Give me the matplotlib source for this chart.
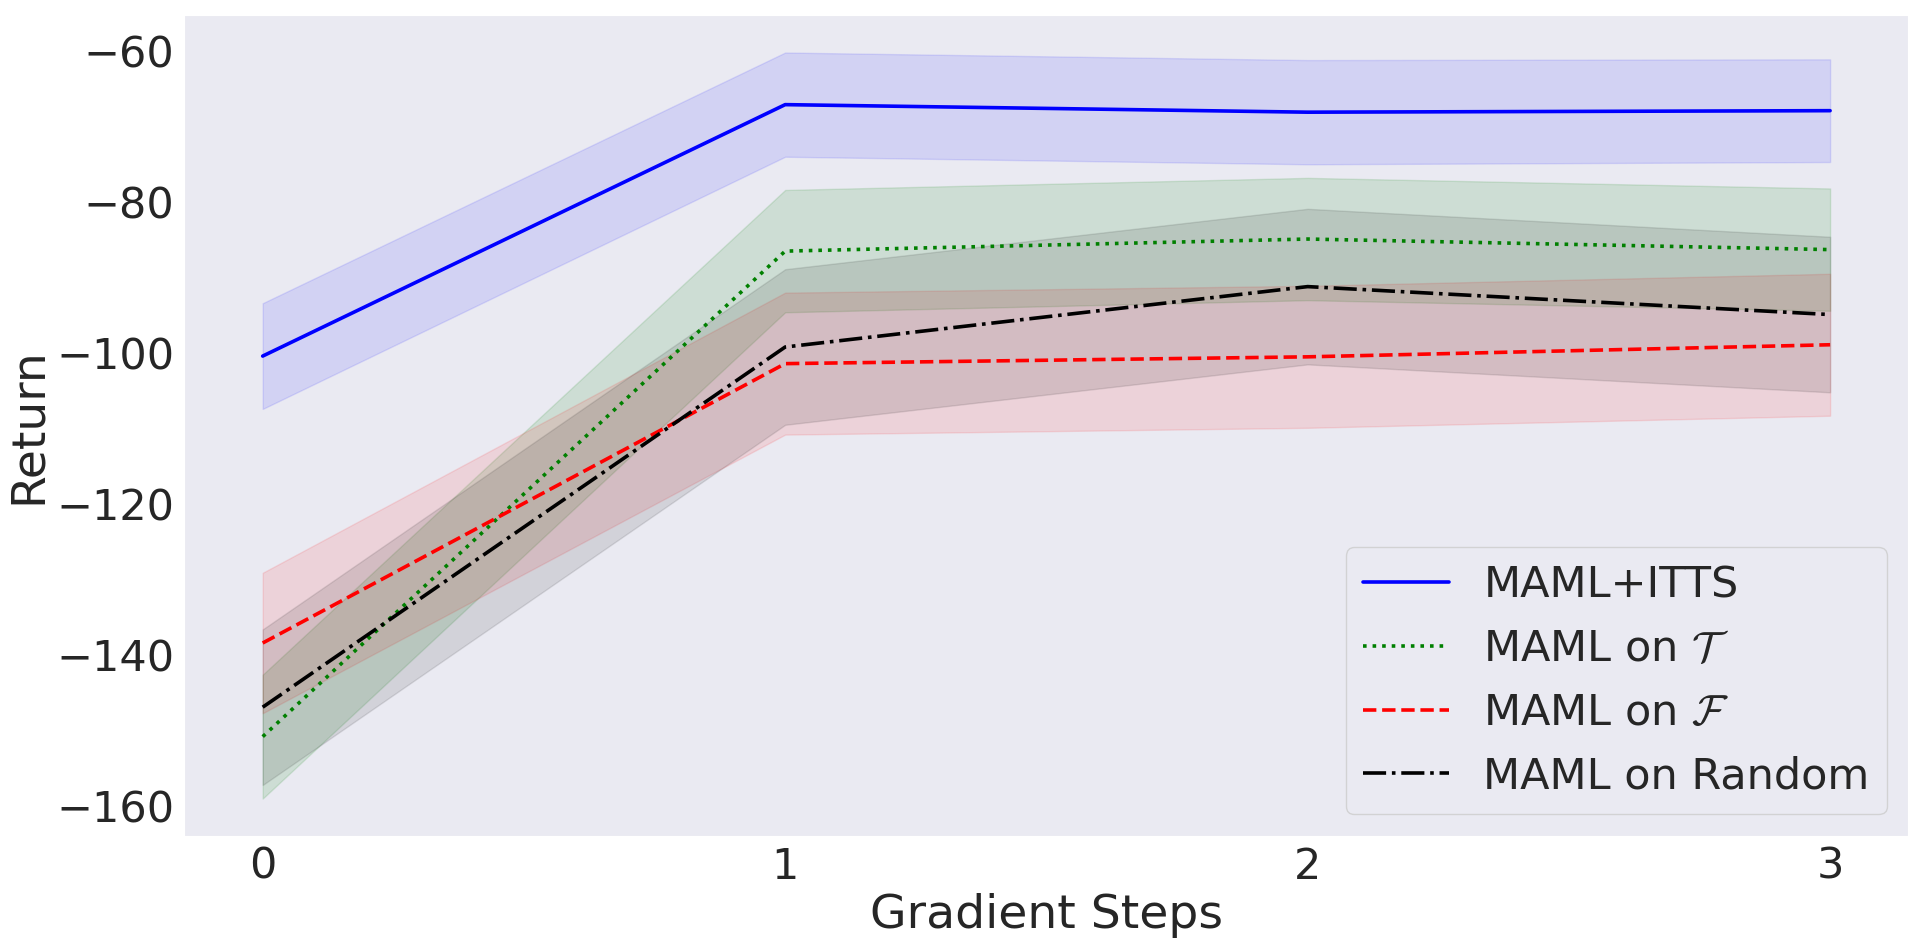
import matplotlib
matplotlib.use("Agg")
import matplotlib.pyplot as plt
import seaborn as sns
import numpy as np

sns.set_style("dark")
plt.rcParams['font.family'] = ['DejaVu Sans']
plt.rcParams['mathtext.fontset'] = 'cm'

steps = [0, 1, 2, 3]

itts_mean = [-100.4, -67.1, -68.1, -67.9]
itts_std = [7.0, 6.9, 6.9, 6.8]

task_mean = [-150.8, -86.5, -84.9, -86.3]
task_std = [8.2, 8.1, 8.1, 8.1]

fail_mean = [-138.4, -101.4, -100.5, -98.9]
fail_std = [9.3, 9.4, 9.4, 9.4]

rand_mean = [-146.9, -99.2, -91.2, -94.9]
rand_std = [10.3, 10.3, 10.3, 10.3]

labels = ["MAML+ITTS", r"MAML on $\mathcal{T}$", r"MAML on $\mathcal{F}$", "MAML on Random"]

series = [
    (itts_mean, itts_std, 'blue', '-', 0.1),
    (task_mean, task_std, 'green', ':', 0.12),
    (fail_mean, fail_std, 'red', '--', 0.1),
    (rand_mean, rand_std, 'black', '-.', 0.1),
]

fig, ax = plt.subplots(figsize=(19.2, 9.52), dpi=100)
x = np.array(steps)
for (mean, std, color, ls, a), lab in zip(series, labels):
    mean = np.array(mean)
    std = np.array(std)
    ax.plot(x, mean, color=color, linestyle=ls, linewidth=2.6, label=lab)
    ax.fill_between(x, mean - std, mean + std, color=color, alpha=a)

ax.set_xticks(steps)
ax.set_yticks([-160, -140, -120, -100, -80, -60])
ax.tick_params(labelsize=31)
ax.set_xlabel("Gradient Steps", fontsize=34)
ax.set_ylabel("Return", fontsize=34)
ax.legend(loc='lower right', fontsize=31)

plt.subplots_adjust(left=0.096, right=0.994, top=0.984, bottom=0.122)
plt.savefig("out.png", dpi=100)
